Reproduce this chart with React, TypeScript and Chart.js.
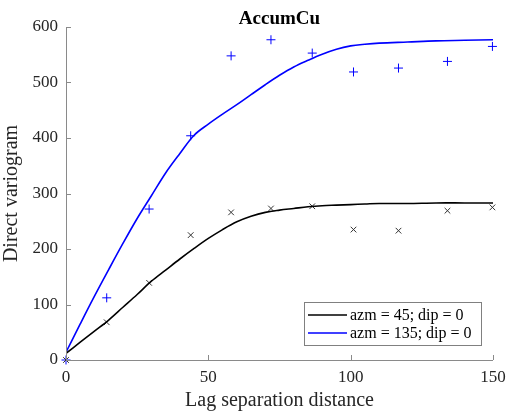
import React, { useEffect, useRef } from "react";
import { Chart, registerables } from "chart.js";

Chart.register(...registerables);

// Experimental variogram (lag distance and values per direction)
const lagDistances = [0, 14.3, 29.2, 43.8, 58.0, 72.0, 86.5, 101.0, 116.8, 134.0, 149.8];
const azm45Experimental = [0, 68, 139, 225, 266, 273, 277, 235, 233, 269, 275];
const azm135Experimental = [0, 112, 272, 404, 548, 577, 553, 519, 526, 538, 565];

// Fitted model curves
const modelLags = [0, 5, 10, 15, 20, 25, 30, 35, 40, 45, 50, 55, 60, 65, 70, 75, 80, 85, 90, 95, 100, 105, 110, 120, 130, 140, 150];
const azm45Model = [12, 32, 52, 72, 95, 118, 142, 162, 182, 201, 219, 235, 249, 259, 266, 270, 273, 276, 278, 279, 280, 281, 282, 282, 283, 283, 283];
const azm135Model = [14, 65, 115, 163, 210, 255, 296, 337, 372, 405, 425, 443, 460, 478, 496, 513, 528, 540, 551, 560, 566, 569, 571, 573, 575, 576, 577];

const legendLabels = ["azm = 45; dip = 0", "azm = 135; dip = 0"];
const seriesColors = ["#000000", "#0000ff"];

const xTicks = [0, 50, 100, 150];
const yTicks = [0, 100, 200, 300, 400, 500, 600];

const chartTitle = "AccumCu";
const xTitle = "Lag separation distance";
const yTitle = "Direct variogram";

const serif = "'Liberation Serif', 'Times New Roman', serif";
const axisGray = "#8a8a8a";
const textColor = "#262626";

const toPoints = (xs: number[], ys: number[]) => xs.map((x, i) => ({ x, y: ys[i] }));

const framePlugin = {
  id: "frame",
  afterDraw(chart: any) {
    const { ctx, chartArea, scales } = chart;
    const { left, right, top, bottom } = chartArea;
    ctx.save();
    // axis lines (left and bottom only)
    ctx.strokeStyle = axisGray;
    ctx.lineWidth = 1;
    ctx.beginPath();
    ctx.moveTo(left + 0.5, top);
    ctx.lineTo(left + 0.5, bottom + 0.5);
    ctx.lineTo(right, bottom + 0.5);
    ctx.stroke();
    // inward tick marks
    ctx.beginPath();
    xTicks.forEach((v) => {
      const px = Math.round(scales.x.getPixelForValue(v)) + 0.5;
      ctx.moveTo(px, bottom);
      ctx.lineTo(px, bottom - 5);
    });
    yTicks.forEach((v) => {
      const py = Math.round(scales.y.getPixelForValue(v)) + 0.5;
      ctx.moveTo(left, py);
      ctx.lineTo(left + 5, py);
    });
    ctx.stroke();

    // title
    ctx.fillStyle = "#000";
    ctx.font = `bold 19px ${serif}`;
    ctx.textAlign = "center";
    ctx.textBaseline = "alphabetic";
    ctx.fillText(chartTitle, (left + right) / 2, 24);

    // legend box
    const bw = 177;
    const bh = 43;
    const bx = right - 12 - bw;
    const by = bottom - 15 - bh;
    ctx.fillStyle = "#fff";
    ctx.fillRect(bx, by, bw, bh);
    ctx.strokeStyle = "#808080";
    ctx.lineWidth = 1;
    ctx.strokeRect(bx + 0.5, by + 0.5, bw, bh);
    ctx.font = `16px ${serif}`;
    ctx.textAlign = "left";
    ctx.textBaseline = "middle";
    legendLabels.forEach((label, i) => {
      const cy = by + 13 + i * 18;
      ctx.strokeStyle = seriesColors[i];
      ctx.lineWidth = 1.5;
      ctx.beginPath();
      ctx.moveTo(bx + 4, cy);
      ctx.lineTo(bx + 43, cy);
      ctx.stroke();
      ctx.fillStyle = "#000";
      ctx.fillText(label, bx + 46, cy + 1);
    });
    ctx.restore();
  },
};

export default function App() {
  const canvasRef = useRef<HTMLCanvasElement | null>(null);

  useEffect(() => {
    const canvas = canvasRef.current;
    if (!canvas) return;
    const chart = new Chart(canvas, {
      type: "scatter",
      data: {
        datasets: [
          {
            label: legendLabels[0] + " model",
            data: toPoints(modelLags, azm45Model),
            showLine: true,
            borderColor: seriesColors[0],
            borderWidth: 1.6,
            pointRadius: 0,
            tension: 0.35,
          },
          {
            label: legendLabels[1] + " model",
            data: toPoints(modelLags, azm135Model),
            showLine: true,
            borderColor: seriesColors[1],
            borderWidth: 1.6,
            pointRadius: 0,
            tension: 0.35,
          },
          {
            label: legendLabels[0],
            data: toPoints(lagDistances, azm45Experimental),
            showLine: false,
            pointStyle: "crossRot",
            pointRadius: 4,
            borderColor: "#333333",
            borderWidth: 1,
            clip: false,
          },
          {
            label: legendLabels[1],
            data: toPoints(lagDistances, azm135Experimental),
            showLine: false,
            pointStyle: "cross",
            pointRadius: 4.5,
            borderColor: seriesColors[1],
            borderWidth: 1,
            clip: false,
          },
        ],
      },
      options: {
        animation: false,
        responsive: false,
        layout: { padding: { top: 27, right: 15, left: 0, bottom: 0 } },
        plugins: {
          legend: { display: false },
          title: { display: false },
          tooltip: { enabled: false },
        },
        scales: {
          x: {
            type: "linear",
            min: 0,
            max: 150,
            afterBuildTicks: (s: any) => {
              s.ticks = xTicks.map((v) => ({ value: v }));
            },
            afterFit: (s: any) => {
              s.height = 56;
            },
            grid: { display: false, drawTicks: false },
            border: { display: false },
            ticks: {
              padding: 2,
              color: textColor,
              font: { family: serif, size: 17, lineHeight: 1.85 },
              maxRotation: 0,
            },
            title: {
              display: true,
              text: xTitle,
              color: textColor,
              font: { family: serif, size: 20 },
              padding: { top: 0, bottom: 3 },
            },
          },
          y: {
            type: "linear",
            min: 0,
            max: 600,
            afterBuildTicks: (s: any) => {
              s.ticks = yTicks.map((v) => ({ value: v }));
            },
            afterFit: (s: any) => {
              s.width = 66;
            },
            grid: { display: false, drawTicks: false },
            border: { display: false },
            ticks: {
              padding: 8,
              color: textColor,
              font: { family: serif, size: 17 },
            },
            title: {
              display: true,
              text: yTitle,
              color: textColor,
              font: { family: serif, size: 20 },
              padding: { top: 0, bottom: 0 },
            },
          },
        },
      },
      plugins: [framePlugin],
    });
    return () => chart.destroy();
  }, []);

  return (
    <div style={{ position: "absolute", left: 0, top: 0, width: 508, height: 416, background: "#fff" }}>
      <canvas ref={canvasRef} width={508} height={416} style={{ display: "block" }} />
    </div>
  );
}
